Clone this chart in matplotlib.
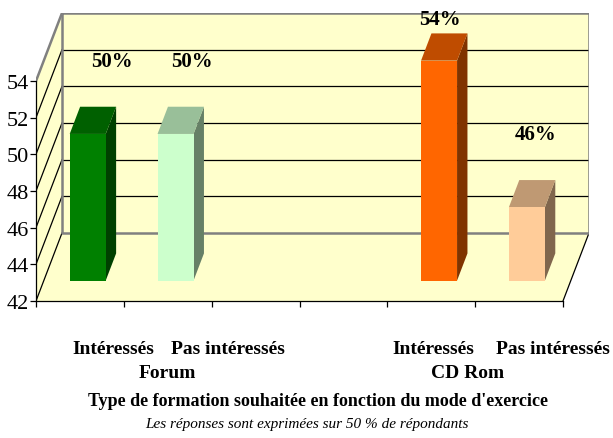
import numpy as np
import matplotlib.pyplot as plt
from matplotlib.patches import Polygon

plt.rcParams['font.family'] = ['Liberation Serif', 'DejaVu Serif']

# data
categories = ['Intéressés', 'Pas intéressés', 'Intéressés', 'Pas intéressés']
groups = ['Forum', 'CD Rom']
values = [50, 50, 54, 46]
value_labels = ['50%', '50%', '54%', '46%']
title = "Type de formation souhaitée en fonction du mode d'exercice"
subtitle = "Les réponses sont exprimées sur 50 % de répondants"

# layout / style
slots = [0, 1, 4, 5]          # category slots on the 6-slot axis
nslots = 6
ymin, ymax = 42, 54
DX, DY = 0.296, 3.71           # depth offset (x in slots, y in value units)
d0, d1 = 0.30, 0.70            # bar depth range
bw = 0.41
front = ['#008000', '#CCFFCC', '#FF6600', '#FFCC99']
top = ['#006000', '#99BF99', '#BF4C00', '#BF9973']
side = ['#004000', '#668066', '#803300', '#80664D']
wall = '#FFFFCC'
grey = '#808080'

fig = plt.figure(figsize=(6.13, 4.39), dpi=100)
W, H = 613, 439
ax = fig.add_axes([36 / W, (H - 302) / H, 553 / W, 288 / H])
ax.set_xlim(0, nslots + DX)
ax.set_ylim(ymin, ymax + DY)
ax.patch.set_visible(False)

# walls
ax.add_patch(Polygon([(DX, ymin + DY), (nslots + DX, ymin + DY), (nslots + DX, ymax + DY), (DX, ymax + DY)],
                     closed=True, fc=wall, ec='none', zorder=0))
ax.add_patch(Polygon([(0, ymin), (DX, ymin + DY), (DX, ymax + DY), (0, ymax)],
                     closed=True, fc=wall, ec='none', zorder=0))
ax.add_patch(Polygon([(0, ymin), (nslots, ymin), (nslots + DX, ymin + DY), (DX, ymin + DY)],
                     closed=True, fc=wall, ec='none', zorder=0))

ticks = np.arange(ymin, ymax + 1, 2)
for t in ticks[1:-1]:
    ax.plot([DX, nslots + DX], [t + DY, t + DY], color='black', lw=0.9, zorder=1)
for t in ticks[1:-1]:
    ax.plot([0, DX], [t, t + DY], color='black', lw=0.9, zorder=1)
ax.plot([0, DX], [ymin, ymin + DY], color='black', lw=0.9, zorder=1)
ax.plot([nslots, nslots + DX], [ymin, ymin + DY], color='black', lw=0.9, zorder=1)
ax.plot([0, DX], [ymax, ymax + DY], color=grey, lw=1.8, zorder=1)
ax.plot([DX, nslots + DX, nslots + DX, DX, DX],
        [ymax + DY, ymax + DY, ymin + DY, ymin + DY, ymax + DY], color=grey, lw=1.8, zorder=1)

# bars
for i, v in enumerate(values):
    c = slots[i] + 0.5
    x0 = c - bw / 2 + d0 * DX
    x1 = c + bw / 2 + d0 * DX
    b0 = ymin + d0 * DY
    t0 = v + d0 * DY
    ddx = (d1 - d0) * DX
    ddy = (d1 - d0) * DY
    ax.add_patch(Polygon([(x1, b0), (x1 + ddx, b0 + ddy), (x1 + ddx, t0 + ddy), (x1, t0)],
                         closed=True, fc=side[i], ec='none', zorder=3))
    ax.add_patch(Polygon([(x0, t0), (x1, t0), (x1 + ddx, t0 + ddy), (x0 + ddx, t0 + ddy)],
                         closed=True, fc=top[i], ec='none', zorder=3))
    ax.add_patch(Polygon([(x0, b0), (x1, b0), (x1, t0), (x0, t0)],
                         closed=True, fc=front[i], ec='none', zorder=4))

# value labels
lab_dx = [0.365, 0.28, 0.10, 0.19]
for i, v in enumerate(values):
    ax.text(slots[i] + 0.5 + lab_dx[i], min(v + 5.1, 57.4), value_labels[i],
            ha='center', va='center', fontsize=15, fontweight='bold', zorder=5)

# axes
for s in ['top', 'right']:
    ax.spines[s].set_visible(False)
ax.spines['left'].set_bounds(ymin, ymax)
ax.spines['bottom'].set_bounds(0, nslots)
ax.spines['left'].set_linewidth(0.9)
ax.spines['bottom'].set_linewidth(0.9)
ax.set_yticks(ticks)
ax.set_yticklabels([str(t) for t in ticks], fontsize=16)
ax.set_xticks(np.arange(nslots + 1))
ax.set_xticklabels([])
ax.tick_params(axis='y', length=4, width=0.9, pad=1)
ax.tick_params(axis='x', length=4, width=0.9)

# category labels
cat_x = [113, 228, 433, 553]
for x, lab in zip(cat_x, categories):
    fig.text(x / W, 1 - 350 / H, lab, ha='center', va='center', fontsize=14, fontweight='bold')
grp_x = [167, 468]
for x, lab in zip(grp_x, groups):
    fig.text(x / W, 1 - 373 / H, lab, ha='center', va='center', fontsize=14, fontweight='bold')
fig.text(318 / W, 1 - 402 / H, title, ha='center', va='center', fontsize=13, fontweight='bold')
fig.text(307 / W, 1 - 425 / H, subtitle, ha='center', va='center', fontsize=11, style='italic')

fig.savefig('out.png', dpi=100)
